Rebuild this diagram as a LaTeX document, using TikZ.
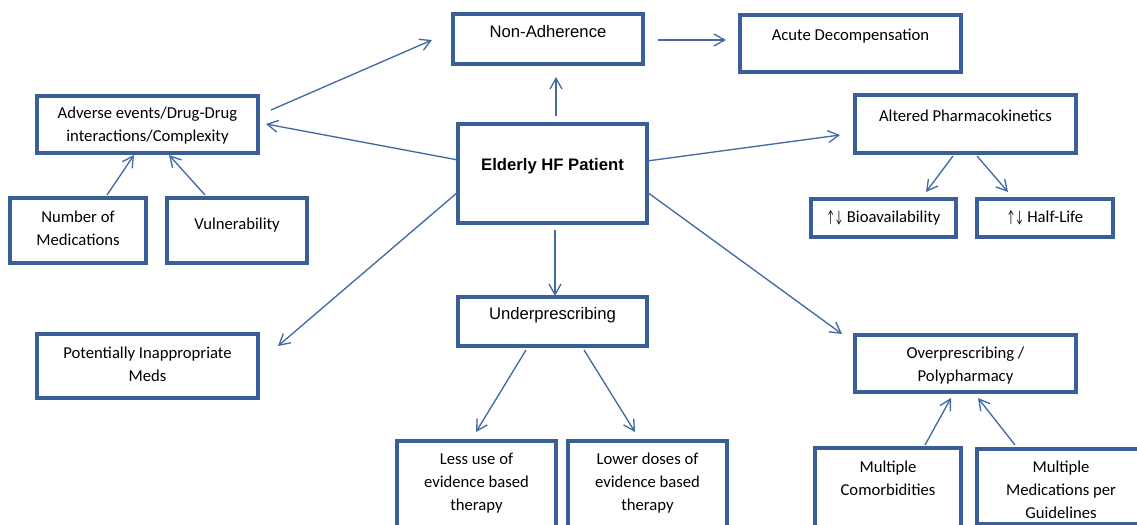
\documentclass[tikz,border=0pt]{standalone}
\usepackage{fontspec}
\setmainfont{Carlito}
\newfontfamily\arialfont{Liberation Sans}
\usetikzlibrary{arrows.meta,calc}
\definecolor{boxc}{RGB}{58,95,150}
\definecolor{arrc}{RGB}{66,106,162}
\newcommand{\updn}{\scalebox{0.55}[1]{↑↓}}
\tikzset{
  bx/.style 2 args={draw=boxc, line width=2.3pt, inner sep=0pt, outer sep=0pt,
    minimum width=#1*0.75pt, minimum height=#2*0.75pt},
  txt/.style={anchor=north, inner sep=0pt, align=center, text=black,
    font=\fontsize{12.5}{17.25}\selectfont},
  atxt/.style={anchor=north, inner sep=0pt, align=center, text=black,
    font=\arialfont\fontsize{12.5}{17.25}\selectfont},
  arr/.style={draw=arrc, line width=1pt, -{Straight Barb[length=8pt,width=9pt]}}
}
\begin{document}
\begin{tikzpicture}[x=0.75pt,y=-0.75pt]
\useasboundingbox (0,0) rectangle (1137,524);
\clip (0,0) rectangle (1137,524);
% boxes
\node[bx={221}{57}] (adv) at (147.5,124.5) {};
\node[bx={136}{65}] (num) at (78,230.5) {};
\node[bx={140}{65}] (vul) at (237,230.5) {};
\node[bx={190}{50}] (non) at (548,39) {};
\node[bx={221}{57}] (acu) at (850.5,43.5) {};
\node[bx={189}{99}] (eld) at (552.5,173.5) {};
\node[bx={221}{58}] (alt) at (965.5,124) {};
\node[bx={145}{38}] (bio) at (883.5,218) {};
\node[bx={136}{38}] (hal) at (1045,218) {};
\node[bx={189}{49}] (und) at (552.5,321.5) {};
\node[bx={221}{64}] (pot) at (147.5,366) {};
\node[bx={221}{57}] (ovr) at (965.5,363.5) {};
\node[bx={159}{119}] (les) at (476.5,500.5) {};
\node[bx={159}{119}] (low) at (647.5,500.5) {};
\node[bx={146}{112}] (com) at (888,504) {};
\node[bx={168}{75}] (mul) at (1061,486.5) {};
% texts
\node[txt] (advt) at (147.5,106.5) {Adverse events/Drug-Drug\\interactions/Complexity};
\node[txt] (numt) at (78,210.5) {Number of\\Medications};
\node[txt] (vult) at (237,217.5) {Vulnerability};
\node[atxt] (nont) at (548,25.5) {Non-Adherence};
\node[txt] (acut) at (850.5,28.5) {Acute Decompensation};
\node[atxt, font=\arialfont\bfseries\fontsize{12.5}{17.25}\selectfont] (eldt) at (552.5,158.5) {Elderly HF Patient};
\node[txt] (altt) at (965.5,109.5) {Altered Pharmacokinetics};
\node[txt] (biot) at (883.5,210.5) {\updn\ Bioavailability};
\node[txt] (halt) at (1045,210.5) {\updn\ Half-Life};
\node[atxt] (undt) at (552.5,307.5) {Underprescribing};
\node[txt] (pott) at (147.5,346.5) {Potentially Inappropriate\\Meds};
\node[txt] (ovrt) at (965.5,346.5) {Overprescribing /\\Polypharmacy};
\node[txt] (lest) at (476.5,452.5) {Less use of\\evidence based\\therapy};
\node[txt] (lowt) at (647.5,452.5) {Lower doses of\\evidence based\\therapy};
\node[txt] (comt) at (888,460.5) {Multiple\\Comorbidities};
\node[txt] (mult) at (1061,460.5) {Multiple\\Medications per\\Guidelines};
% connectors
\draw[arr] ($(eld.west)+(0,-13.5)$) -- ($(adv.east)+(8,-0.5)$);
\draw[arr] ($(adv.east)+(13,-14.5)$) -- ($(non.west)+(-21,1)$);
\draw[arr] ($(eld.north)+(3.5,-8)$) -- ($(non.south)+(8,13)$);
\draw[arr] ($(non.east)+(15,1)$) -- ($(acu.west)+(-14,-3.5)$);
\draw[arr] ($(eld.east)+(0,-12.5)$) -- ($(alt.west)+(-15,11)$);
\draw[arr] ($(alt.south)+(-12.5,3)$) -- ($(bio.north)+(42.5,-7)$);
\draw[arr] ($(alt.south)+(11.5,3)$) -- ($(hal.north)+(-37,-7)$);
\draw[arr] ($(num.north)+(29,-3)$) -- ($(adv.south)+(-13.5,2)$);
\draw[arr] ($(vul.north)+(-32,-3)$) -- ($(adv.south)+(21.5,2)$);
\draw[arr] ($(eld.west)+(0,18.5)$) -- ($(pot.east)+(20,-20)$);
\draw[arr] ($(eld.south)+(2.5,7)$) -- ($(und.north)+(2.5,-1)$);
\draw[arr] ($(eld.east)+(0,18.5)$) -- ($(ovr.west)+(-13,-29.5)$);
\draw[arr] ($(und.south)+(-26.5,4)$) -- ($(les.north)+(-0.5,-9)$);
\draw[arr] ($(und.south)+(31.5,4)$) -- ($(low.north)+(-12.5,-9)$);
\draw[arr] ($(com.north)+(37,-3)$) -- ($(ovr.south)+(-14.5,6)$);
\draw[arr] ($(mul.north)+(-46,-4)$) -- ($(ovr.south)+(12.5,6)$);
\end{tikzpicture}
\end{document}
